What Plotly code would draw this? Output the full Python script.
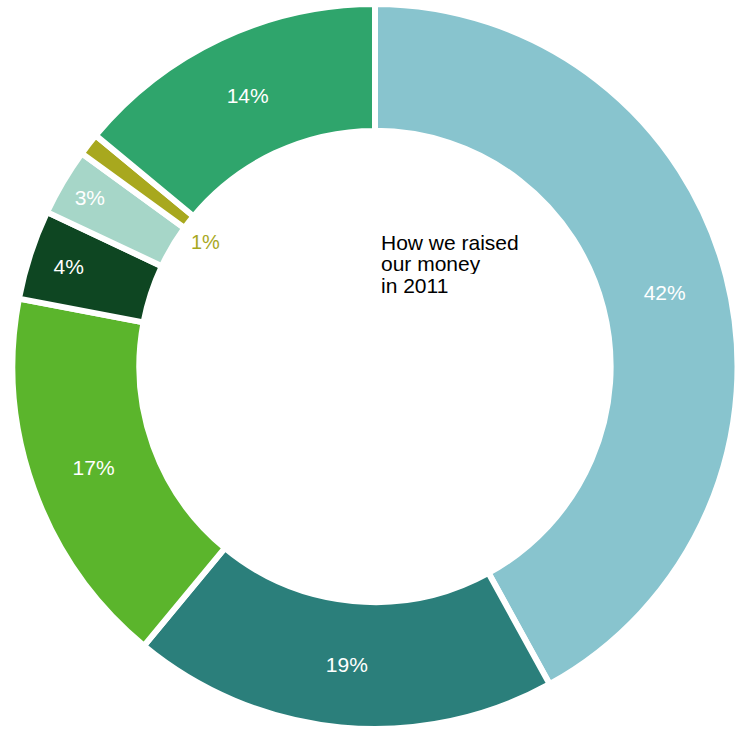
import plotly.graph_objects as go

labels = ["A", "B", "C", "D", "E", "F", "G"]
values = [42, 19, 17, 4, 3, 1, 14]
texts = ["42%", "19%", "17%", "4%", "3%", "", "14%"]
colors = ["#88c4ce", "#2b7f7b", "#5bb52c", "#0e4622", "#a6d6c8", "#a8a81e", "#2fa56c"]
title_lines = ["How we raised", "our money", "in 2011"]
small_label = "1%"

FONT = "Liberation Sans, Arial, sans-serif"

fig = go.Figure(go.Pie(
    labels=labels,
    values=values,
    text=texts,
    textinfo="text",
    textposition="inside",
    insidetextorientation="horizontal",
    sort=False,
    direction="clockwise",
    rotation=0,
    hole=0.65,
    marker=dict(colors=colors, line=dict(color="white", width=6)),
    textfont=dict(family=FONT, size=21, color="white"),
    showlegend=False,
))

W, H = 744, 729
ml, mr, mt, mb = 12, 6, 4, 0
pw, ph = W - ml - mr, H - mt - mb

def px(x):
    return (x - ml) / pw

def py(y):
    return (H - mb - y) / ph

for i, line in enumerate(title_lines):
    fig.add_annotation(
        x=px(379), y=py(242 + 21.5 * i), xref="paper", yref="paper",
        text=line, showarrow=False, xanchor="left", yanchor="middle", align="left",
        height=21, valign="middle",
        font=dict(family=FONT, size=21, color="black"),
    )

fig.add_annotation(
    x=px(206), y=py(242), xref="paper", yref="paper",
    text=small_label, showarrow=False, xanchor="center", yanchor="middle",
    font=dict(family=FONT, size=20, color="#a8a81e"),
)

fig.update_layout(
    width=W, height=H,
    margin=dict(l=ml, r=mr, t=mt, b=mb),
    paper_bgcolor="white", plot_bgcolor="white",
)

fig.write_html("out.html")
